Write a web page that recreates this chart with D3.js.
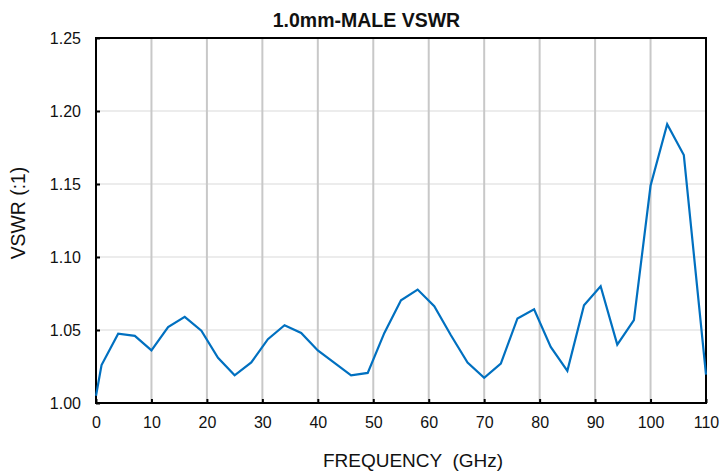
<!DOCTYPE html>
<html>
<head>
<meta charset="utf-8">
<script src="https://cdn.jsdelivr.net/npm/d3@7"></script>
<style>
  body { margin: 0; background: #fff; }
  text { font-family: Arial, "Liberation Sans", sans-serif; fill: #111; }
</style>
</head>
<body>
<div id="chart"></div>
<script>
// Data
const freqs = [0, 1, 4, 7, 10, 13, 16, 19, 22, 25, 28, 31, 34, 37, 40, 43, 46, 49, 52, 55,
               58, 61, 64, 67, 70, 73, 76, 79, 82, 85, 88, 91, 94, 97, 100, 103, 106, 110];
const vswr = [1.005, 1.026, 1.0475, 1.046, 1.036, 1.052, 1.059, 1.0495, 1.031, 1.019, 1.0278, 1.0437, 1.0533, 1.048,
              1.036, 1.0275, 1.019, 1.0206, 1.048, 1.0704, 1.0777, 1.0663, 1.0464, 1.0277, 1.0172, 1.027,
              1.0579, 1.0642, 1.0384, 1.022, 1.067, 1.080, 1.040, 1.0567, 1.1488, 1.191, 1.1698, 1.0195];
const xTicks = [0, 10, 20, 30, 40, 50, 60, 70, 80, 90, 100, 110];
const yTicks = [1.00, 1.05, 1.10, 1.15, 1.20, 1.25];

const data = freqs.map((f, i) => ({ f: f, v: vswr[i] }));

let width = 720,
    height = 473;

let margin = {
    top: 38,
    bottom: 70,
    left: 96,
    right: 14
}

let svg = d3.select('#chart')
    .append('svg')
    .attr('width', width)
    .attr('height', height);

let xScale = d3.scaleLinear()
    .domain([0, 110])
    .range([margin.left, width - margin.right]);

let yScale = d3.scaleLinear()
    .domain([1.0, 1.25])
    .range([height - margin.bottom, margin.top]);

// horizontal grid lines
svg.append('g')
    .selectAll('line')
    .data(yTicks.slice(1, -1))
    .enter().append('line')
    .attr('x1', xScale(0))
    .attr('x2', xScale(110))
    .attr('y1', d => yScale(d))
    .attr('y2', d => yScale(d))
    .attr('stroke', '#d9d9d9')
    .attr('stroke-width', 1.2);

// vertical grid lines
svg.append('g')
    .selectAll('line')
    .data(xTicks.slice(1, -1))
    .enter().append('line')
    .attr('x1', d => xScale(d))
    .attr('x2', d => xScale(d))
    .attr('y1', yScale(1.0))
    .attr('y2', yScale(1.25))
    .attr('stroke', '#c8c8c8')
    .attr('stroke-width', 2);

// x axis (ticks inside)
let xAxis = svg.append('g')
    .attr('transform', `translate(0,${yScale(1.0)})`)
    .call(d3.axisBottom(xScale).tickValues(xTicks).tickSize(-4).tickPadding(14).tickFormat(d3.format('d')));

// y axis (ticks inside)
let yAxis = svg.append('g')
    .attr('transform', `translate(${xScale(0)},0)`)
    .call(d3.axisLeft(yScale).tickValues(yTicks).tickSize(-4).tickPadding(15).tickFormat(d3.format('.2f')));

[xAxis, yAxis].forEach(ax => {
    ax.select('.domain').remove();
    ax.selectAll('.tick line').attr('stroke', '#000').attr('stroke-width', 2);
    ax.selectAll('.tick text').style('font-size', '16px').attr('fill', '#111');
});
xAxis.selectAll('.tick text').attr('dy', '0.7em');

// frame
svg.append('rect')
    .attr('x', xScale(0))
    .attr('y', yScale(1.25))
    .attr('width', xScale(110) - xScale(0))
    .attr('height', yScale(1.0) - yScale(1.25))
    .attr('fill', 'none')
    .attr('stroke', '#000')
    .attr('stroke-width', 2);

// the VSWR line
let line = d3.line()
    .x(d => xScale(d.f))
    .y(d => yScale(d.v));

svg.append('path')
    .datum(data)
    .attr('d', line)
    .attr('fill', 'none')
    .attr('stroke', '#0070c0')
    .attr('stroke-width', 2.2)
    .attr('stroke-linejoin', 'miter');

// title
svg.append('text')
    .attr('x', 366.5)
    .attr('y', 26.5)
    .text('1.0mm-MALE VSWR')
    .style('font-size', '19.5px')
    .style('font-weight', 'bold')
    .style('text-anchor', 'middle');

// x-axis label
svg.append('text')
    .attr('x', 413)
    .attr('y', 467)
    .text('FREQUENCY  (GHz)')
    .style('font-size', '19px')
    .style('white-space', 'pre')
    .style('text-anchor', 'middle');

// y-axis label
svg.append('text')
    .attr('x', -213)
    .attr('y', 24.5)
    .attr('transform', 'rotate(-90)')
    .text('VSWR (:1)')
    .style('font-size', '19.4px')
    .style('text-anchor', 'middle');
</script>
</body>
</html>
